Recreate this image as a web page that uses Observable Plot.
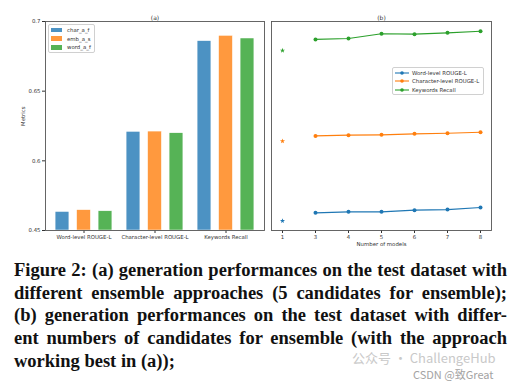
<!DOCTYPE html>
<html>
<head>
<meta charset="utf-8">
<script src="https://cdn.jsdelivr.net/npm/d3@7"></script>
<script src="https://cdn.jsdelivr.net/npm/@observablehq/plot@0.6"></script>
<style>
  html, body { margin: 0; padding: 0; background: #fff; }
  #fig { position: relative; width: 531px; height: 383px; overflow: hidden; background: #fff; }
  #left, #right { position: absolute; top: 0; }
  #left { left: 0; }
  #right { left: 266px; }
  .legend { position: absolute; background: rgba(255,255,255,0.85); border: 0.8px solid #d0d0d0; border-radius: 2px; box-sizing: border-box; font-family: "DejaVu Sans"; font-size: 5.4px; color: #333; }
  .legend .row { position: absolute; left: 0; height: 8.7px; display: flex; align-items: center; white-space: nowrap; }
  #caption { position: absolute; left: 14px; top: 259px; width: 493px; font-family: "Liberation Serif", serif; font-weight: bold; font-size: 18.5px; line-height: 22.7px; color: #111; }
  #caption .j { text-align: justify; text-align-last: justify; }
  .wm { position: absolute; white-space: nowrap; font-family: "Noto Sans CJK SC", "DejaVu Sans"; line-height: 1; }
</style>
</head>
<body>
<div id="fig">
  <div id="left"></div>
  <div id="right"></div>
  <div id="legA" class="legend"></div>
  <div id="legB" class="legend"></div>
  <div id="caption"></div>
  <div class="wm" style="left:352px; top:351px; font-size:13px; color:#c9c9c9;">公众号 · ChallengeHub</div>
  <div class="wm" style="left:413px; top:369px; font-size:11px; color:#a3a3a3;">CSDN @致Great</div>
</div>
<script>
// ---------- Panel (a) data ----------
const categories = ["Word-level ROUGE-L", "Character-level ROUGE-L", "Keywords Recall"];
const approaches = ["char_a_f", "emb_a_s", "word_a_f"];
const charAF = [0.5633, 0.6208, 0.6859];
const embAS  = [0.5646, 0.6210, 0.6897];
const wordAF = [0.5638, 0.6198, 0.6878];
const yTicks = [0.55, 0.6, 0.65, 0.7];
const yTickLabels = ["0.45", "0.6", "0.65", "0.7"];
const yDomain = [0.55, 0.7];

// ---------- Panel (b) data ----------
const numModels = ["1", "3", "4", "5", "6", "7", "8"];
const metricNames = ["Word-level ROUGE-L", "Character-level ROUGE-L", "Keywords Recall"];
const wordROUGE      = [0.5569, 0.5627, 0.5634, 0.5634, 0.5646, 0.5650, 0.5665];
const charROUGE      = [0.6141, 0.6179, 0.6184, 0.6187, 0.6194, 0.6198, 0.6205];
const keywordsRecall = [0.6792, 0.6871, 0.6878, 0.6912, 0.6909, 0.6919, 0.6930];

const barColors  = ["#4c92c3", "#ff993e", "#56b356"];
const lineColors = ["#1f77b4", "#ff7f0e", "#2ca02c"];

const captionLines = [
  "Figure 2: (a) generation performances on the test dataset with",
  "different ensemble approaches (5 candidates for ensemble);",
  "(b) generation performances on the test dataset with differ-",
  "ent numbers of candidates for ensemble (with the approach",
  "working best in (a));"
];

// ---------- tables ----------
const seriesA = [charAF, embAS, wordAF];
const barTable = approaches.flatMap((a, j) =>
  categories.map((c, i) => ({approach: a, category: c, value: seriesA[j][i]})));

const seriesB = [wordROUGE, charROUGE, keywordsRecall];
const lineTable = metricNames.flatMap((m, j) =>
  numModels.map((n, i) => ({metric: m, n, value: seriesB[j][i]})));

const baseStyle = {fontFamily: "DejaVu Sans", fontSize: "5.4px", color: "#333", background: "transparent", overflow: "visible"};

// ---------- Panel (a) ----------
const left = Plot.plot({
  width: 266, height: 250,
  marginLeft: 45, marginRight: 2, marginTop: 21, marginBottom: 20,
  style: baseStyle,
  x: {type: "band", domain: categories, paddingInner: 0, paddingOuter: 0.03, label: null, tickSize: 3, tickPadding: 2},
  y: {domain: yDomain, ticks: yTicks, tickFormat: d => yTickLabels[yTicks.indexOf(d)], tickSize: 3, tickPadding: 2, label: null},
  marks: [
    ...approaches.map((a, j) => Plot.barY(barTable.filter(d => d.approach === a), {
      x: "category", y1: yDomain[0], y2: "value",
      fill: barColors[j], stroke: "white", strokeWidth: 0.5,
      insetLeft: 28.6, insetRight: 28.6, dx: (j - 1) * 21.5
    })),
    Plot.frame({stroke: "#555", strokeWidth: 0.9}),
    Plot.text(["(a)"], {frameAnchor: "top", dy: -6, fontSize: 6, fill: "#333"}),
    Plot.text(["Metrics"], {frameAnchor: "left", dx: -22, rotate: -90, fontSize: 5.4, fill: "#333"})
  ]
});
document.getElementById("left").appendChild(left);

// ---------- Panel (b) ----------
const right = Plot.plot({
  width: 265, height: 250,
  marginLeft: 5, marginRight: 40, marginTop: 21, marginBottom: 20,
  style: baseStyle,
  x: {type: "point", domain: numModels, padding: 0.3, label: "Number of models", labelAnchor: "center", labelOffset: 15, tickSize: 3, tickPadding: 2},
  y: {domain: yDomain, axis: null},
  marks: [
    ...metricNames.flatMap((m, j) => {
      const rows = lineTable.filter(d => d.metric === m);
      const ens = rows.filter(d => d.n !== "1");
      const single = rows.filter(d => d.n === "1");
      return [
        Plot.line(ens, {x: "n", y: "value", stroke: lineColors[j], strokeWidth: 1.2}),
        Plot.dot(ens, {x: "n", y: "value", fill: lineColors[j], r: 2}),
        Plot.dot(single, {x: "n", y: "value", fill: lineColors[j], symbol: "star", r: 1.6})
      ];
    }),
    Plot.frame({stroke: "#555", strokeWidth: 0.9}),
    Plot.text(["(b)"], {frameAnchor: "top", dy: -6, fontSize: 6, fill: "#333"})
  ]
});
document.getElementById("right").appendChild(right);

// ---------- Legends ----------
const legA = document.getElementById("legA");
Object.assign(legA.style, {left: "48px", top: "24px", width: "47px", height: "29px"});
approaches.forEach((a, j) => {
  const row = document.createElement("div");
  row.className = "row";
  row.style.top = (0.6 + j * 8.7) + "px";
  row.innerHTML = `<span style="display:inline-block;width:11px;height:4.5px;background:${barColors[j]};margin-left:2px;margin-right:5px"></span>${a}`;
  legA.appendChild(row);
});

const legB = document.getElementById("legB");
Object.assign(legB.style, {left: "392px", top: "67px", width: "92px", height: "28px"});
metricNames.forEach((m, j) => {
  const row = document.createElement("div");
  row.className = "row";
  row.style.top = (0.2 + j * 8.7) + "px";
  row.innerHTML = `<svg width="16" height="6" style="margin-left:1px;margin-right:2px"><line x1="1" x2="15" y1="3" y2="3" stroke="${lineColors[j]}" stroke-width="1.1"/><circle cx="8" cy="3" r="1.8" fill="${lineColors[j]}"/></svg>${m}`;
  legB.appendChild(row);
});

// ---------- Caption ----------
const cap = document.getElementById("caption");
captionLines.forEach((t, i) => {
  const div = document.createElement("div");
  if (i < captionLines.length - 1) div.className = "j";
  div.textContent = t;
  cap.appendChild(div);
});
</script>
</body>
</html>
